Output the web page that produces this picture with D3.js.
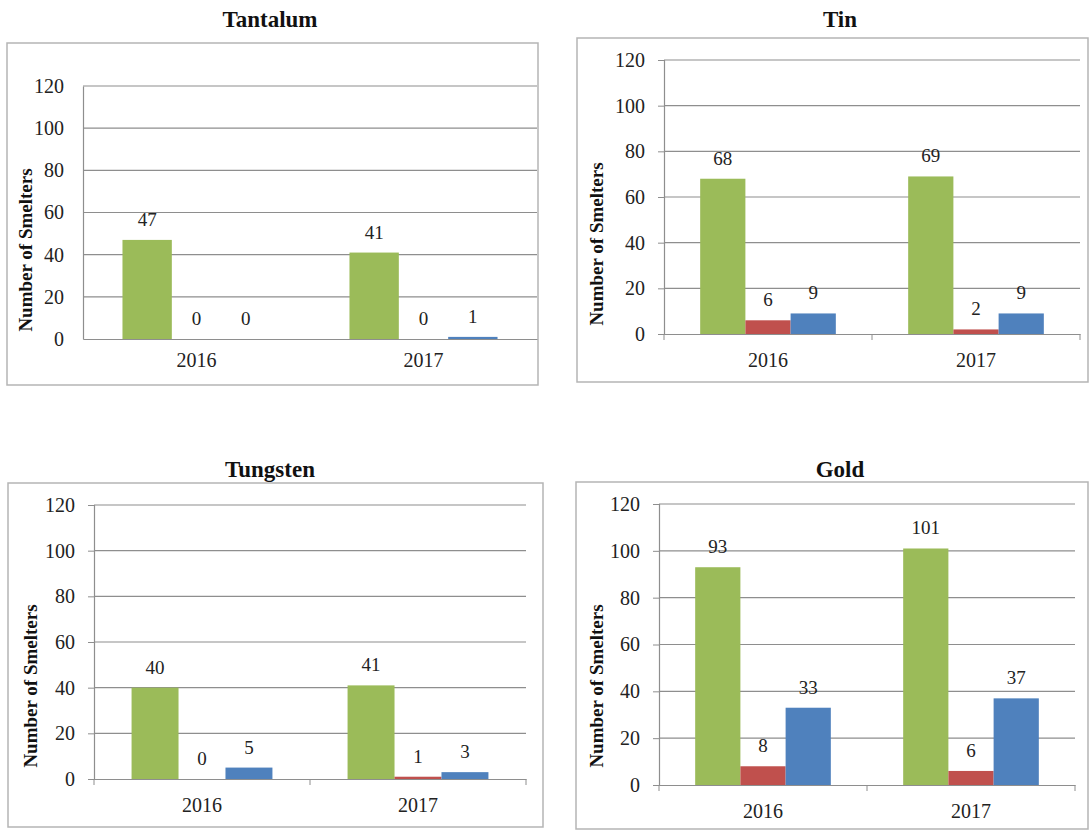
<!DOCTYPE html>
<html>
<head>
<meta charset="utf-8">
<script src="https://cdn.jsdelivr.net/npm/d3@7"></script>
<style>
  body { margin: 0; background: #fff; }
  svg { display: block; font-family: "Liberation Serif", "DejaVu Serif", serif; }
</style>
</head>
<body>
<div id="chart"></div>
<script>
const years = ["2016", "2017"];
const yTicks = [0, 20, 40, 60, 80, 100, 120];
const yTitle = "Number of Smelters";
const seriesColors = ["#9bbb59", "#c0504d", "#4f81bd"];

// values per year: [green, red, blue]
const tantalum = [[47, 0, 0], [41, 0, 1]];
const tin = [[68, 6, 9], [69, 2, 9]];
const tungsten = [[40, 0, 5], [41, 1, 3]];
const gold = [[93, 8, 33], [101, 6, 37]];

const width = 1092, height = 832;
const serif = "\"Liberation Serif\", \"DejaVu Serif\", serif";

const svg = d3.select("#chart")
    .append("svg")
    .attr("width", width)
    .attr("height", height);

// layout of the four panels
const panels = [
    { title: "Tantalum", values: tantalum, box: [7, 43, 538, 385], plot: [83, 537, 86, 339], titleXY: [270, 27], yTitleXY: [25, 250], ticks: false },
    { title: "Tin", values: tin, box: [577, 38, 1088, 382], plot: [664, 1080, 60, 334], titleXY: [840, 27], yTitleXY: [596, 244], ticks: true },
    { title: "Tungsten", values: tungsten, box: [8, 483, 543, 827], plot: [94, 526, 505, 779], titleXY: [270, 477], yTitleXY: [30, 686], ticks: true },
    { title: "Gold", values: gold, box: [576, 482, 1088, 829], plot: [659, 1075, 504, 785], titleXY: [840, 477], yTitleXY: [596, 686], ticks: true }
];

panels.forEach(p => {
    const [bx0, by0, bx1, by1] = p.box;
    const [left, right, top, bottom] = p.plot;

    svg.append("rect")
        .attr("x", bx0).attr("y", by0)
        .attr("width", bx1 - bx0).attr("height", by1 - by0)
        .attr("fill", "none")
        .attr("stroke", "#b5b5b5")
        .attr("stroke-width", 1.5);

    svg.append("text")
        .attr("x", p.titleXY[0]).attr("y", p.titleXY[1])
        .attr("text-anchor", "middle")
        .style("font-family", serif)
        .style("font-size", "23px")
        .style("font-weight", "bold")
        .attr("fill", "#111")
        .text(p.title);

    const y = d3.scaleLinear().domain([0, 120]).range([bottom, top]);
    const x0 = d3.scaleBand().domain(years).range([left, right]).paddingInner(0).paddingOuter(0);
    const x1 = d3.scaleBand().domain(d3.range(3)).range([0, x0.bandwidth()]).paddingOuter(0.8);

    // gridlines
    svg.append("g")
        .selectAll("line")
        .data(yTicks.filter(t => t > 0))
        .join("line")
        .attr("x1", left).attr("x2", right)
        .attr("y1", d => y(d)).attr("y2", d => y(d))
        .attr("stroke", "#8e8e8e")
        .attr("stroke-width", 1.2);

    // bars
    const groups = svg.append("g")
        .selectAll("g")
        .data(years.map((yr, i) => ({ yr, vals: p.values[i] })))
        .join("g")
        .attr("transform", d => `translate(${x0(d.yr)},0)`);

    groups.selectAll("rect")
        .data(d => d.vals.map((v, i) => ({ v, i })))
        .join("rect")
        .attr("x", d => x1(d.i))
        .attr("width", x1.bandwidth())
        .attr("y", d => y(d.v))
        .attr("height", d => bottom - y(d.v))
        .attr("fill", d => seriesColors[d.i]);

    groups.selectAll("text")
        .data(d => d.vals.map((v, i) => ({ v, i })))
        .join("text")
        .attr("x", d => x1(d.i) + x1.bandwidth() / 2)
        .attr("y", d => y(d.v) - 14)
        .attr("text-anchor", "middle")
        .style("font-family", serif)
        .style("font-size", "19px")
        .attr("fill", "#222")
        .text(d => d.v);

    // axes
    const tickSize = p.ticks ? 6 : 0;
    const yAxis = svg.append("g")
        .attr("transform", `translate(${left},0)`)
        .call(d3.axisLeft(y).tickValues(yTicks).tickSize(tickSize).tickPadding(19 - tickSize));
    const xAxis = svg.append("g")
        .attr("transform", `translate(0,${bottom})`)
        .call(d3.axisBottom(x0).tickSize(0).tickPadding(p.ticks ? 19 : 14));

    if (p.ticks) {
        xAxis.append("g")
            .selectAll("line")
            .data([left, (left + right) / 2, right])
            .join("line")
            .attr("x1", d => d).attr("x2", d => d)
            .attr("y1", 0).attr("y2", 6)
            .attr("stroke", "#8e8e8e");
    }

    [yAxis, xAxis].forEach(a => {
        a.attr("font-family", serif);
        a.select(".domain").attr("stroke", "#8e8e8e").attr("stroke-width", 1.2);
        a.selectAll(".tick line").attr("stroke", "#8e8e8e");
        a.selectAll("text")
            .style("font-size", "20px")
            .style("font-family", serif)
            .attr("fill", "#222");
    });

    svg.append("text")
        .attr("transform", `translate(${p.yTitleXY[0]},${p.yTitleXY[1]}) rotate(-90)`)
        .attr("text-anchor", "middle")
        .attr("dy", "0.35em")
        .style("font-family", serif)
        .style("font-size", "19px")
        .style("font-weight", "bold")
        .attr("fill", "#111")
        .text(yTitle);
});
</script>
</body>
</html>
